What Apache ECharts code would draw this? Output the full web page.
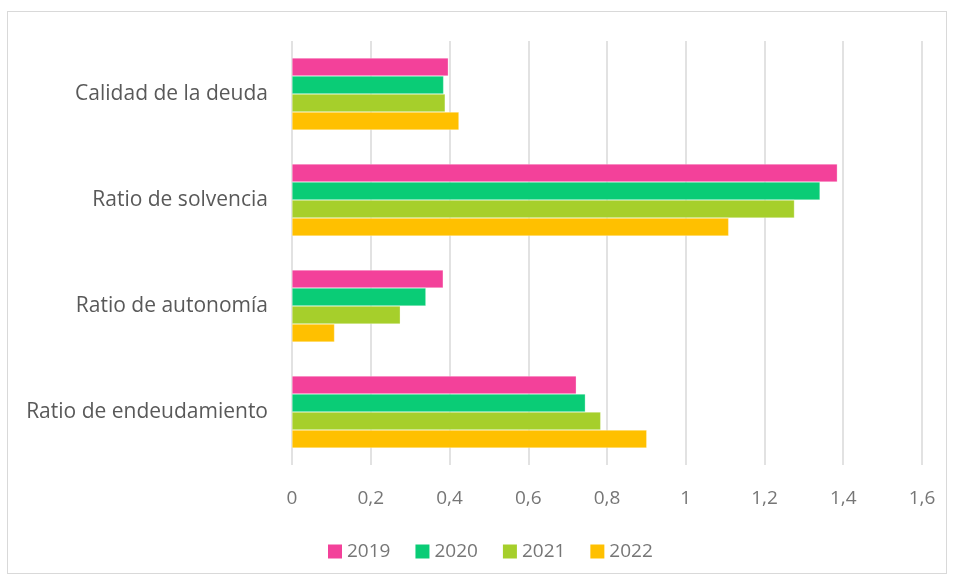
<!DOCTYPE html>
<html>
<head>
<meta charset="utf-8">
<script src="https://cdn.jsdelivr.net/npm/echarts@6/dist/echarts.min.js"></script>
<style>
html,body{margin:0;padding:0;background:#fff;}
#frame{position:absolute;left:7px;top:11px;width:940px;height:563px;border:1px solid #d9d9d9;box-sizing:border-box;}
#c{position:absolute;left:0;top:0;width:956px;height:583px;}
</style>
</head>
<body>
<div id="frame"></div>
<div id="c"></div>
<script>
const categories = ['Ratio de endeudamiento', 'Ratio de autonomía', 'Ratio de solvencia', 'Calidad de la deuda'];
const seriesNames = ['2019', '2020', '2021', '2022'];
const v2019 = [0.722, 0.384, 1.385, 0.397];
const v2020 = [0.745, 0.340, 1.341, 0.385];
const v2021 = [0.784, 0.275, 1.276, 0.389];
const v2022 = [0.901, 0.108, 1.109, 0.424];
const xTicks = [0, 0.2, 0.4, 0.6, 0.8, 1, 1.2, 1.4, 1.6];
const colors = ['#F3419A', '#0ACC76', '#A6CF2B', '#FFC000'];

const values = [v2019, v2020, v2021, v2022];
const chart = echarts.init(document.getElementById('c'), null, {renderer: 'canvas'});
chart.setOption({
  animation: false,
  color: colors,
  textStyle: {fontFamily: 'Open Sans'},
  grid: {left: 292, right: 34, top: 41, bottom: 118, containLabel: false},
  legend: {
    data: seriesNames,
    bottom: 17,
    left: 323,
    itemWidth: 14,
    itemHeight: 14,
    itemGap: 25,
    itemStyle: {borderWidth: 0},
    icon: 'rect',
    textStyle: {fontSize: 19, color: '#767676', fontFamily: 'Open Sans'}
  },
  xAxis: {
    type: 'value',
    min: 0,
    max: 1.6,
    interval: 0.2,
    axisLine: {show: false},
    axisTick: {show: false},
    splitLine: {show: true, lineStyle: {color: '#d9d9d9', width: 1.5}},
    axisLabel: {
      margin: 24,
      fontSize: 19,
      color: '#767676',
      formatter: function (v) {
        const t = xTicks.find(x => Math.abs(x - v) < 1e-9);
        return String(t !== undefined ? t : v).replace('.', ',');
      }
    }
  },
  yAxis: {
    type: 'category',
    data: categories,
    axisLine: {show: false},
    axisTick: {show: false},
    axisLabel: {fontSize: 21, color: '#595959', margin: 24}
  },
  series: seriesNames.map((n, i) => ({
    name: n,
    type: 'bar',
    data: values[i],
    barGap: '0%',
    barCategoryGap: '32%',
    itemStyle: {color: colors[i], borderColor: 'rgba(255,255,255,0.6)', borderWidth: 0.5}
  }))
});
</script>
</body>
</html>
